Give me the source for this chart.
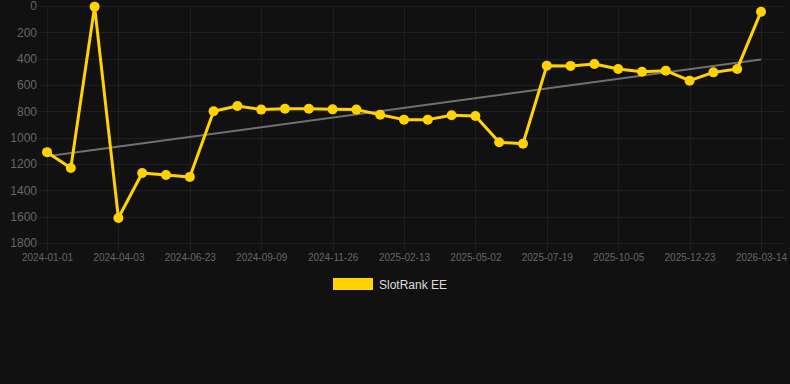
<!DOCTYPE html>
<html>
<head>
<meta charset="utf-8">
<script src="https://cdn.jsdelivr.net/npm/d3@7"></script>
<style>
  html, body { margin: 0; padding: 0; background: #111111; }
  svg { display: block; }
</style>
</head>
<body>
<script>
const width = 790,
  height = 384;

const margin = { top: 6, right: 29, bottom: 141, left: 47 };
const innerWidth = width - margin.left - margin.right;
const innerHeight = height - margin.top - margin.bottom;

// Category dates (every third one is labelled on the axis)
const dates = [
  "2024-01-01", "2024-02-01", "2024-03-03", "2024-04-03", "2024-04-30",
  "2024-05-27", "2024-06-23", "2024-07-19", "2024-08-14", "2024-09-09",
  "2024-10-05", "2024-10-31", "2024-11-26", "2024-12-22", "2025-01-18",
  "2025-02-13", "2025-03-11", "2025-04-06", "2025-05-02", "2025-05-28",
  "2025-06-23", "2025-07-19", "2025-08-14", "2025-09-09", "2025-10-05",
  "2025-10-31", "2025-11-27", "2025-12-23", "2026-01-19", "2026-02-16",
  "2026-03-14"
];

// Rank values
const ranks = [
  1110, 1230, 5, 1610, 1268, 1283, 1298, 800, 760, 787,
  780, 780, 785, 787, 826, 863, 863, 830, 835, 1035,
  1046, 453, 455, 440, 478, 499, 491, 567, 504, 478,
  43
];

const yTicks = [0, 200, 400, 600, 800, 1000, 1200, 1400, 1600, 1800];
const seriesName = "SlotRank EE";

const lineColor = "#ffd200";
const gridColor = "#1f1f1f";
const labelColor = "#666666";

const data = dates.map((d, i) => ({ date: d, rank: ranks[i], i: i }));

// scales
const xScale = d3
  .scalePoint()
  .domain(dates)
  .range([0, innerWidth]);

const yScale = d3
  .scaleLinear()
  .domain([0, 1800])
  .range([0, innerHeight]); // inverted: rank 0 at the top

const svg = d3
  .select("body")
  .append("svg")
  .attr("width", width)
  .attr("height", height)
  .style("background", "#111111");

const mainG = svg
  .append("g")
  .attr("transform", `translate(${margin.left}, ${margin.top})`);

// horizontal grid
mainG
  .append("g")
  .attr("class", "y-grid")
  .selectAll("line")
  .data(yTicks)
  .enter()
  .append("line")
  .attr("x1", -8)
  .attr("x2", innerWidth + 24)
  .attr("y1", d => Math.round(yScale(d)) + 0.5)
  .attr("y2", d => Math.round(yScale(d)) + 0.5)
  .attr("stroke", gridColor)
  .attr("stroke-width", 1);

// vertical grid on labelled categories
const labelled = dates.filter((d, i) => i % 3 === 0);

mainG
  .append("g")
  .attr("class", "x-grid")
  .selectAll("line")
  .data(labelled)
  .enter()
  .append("line")
  .attr("x1", d => Math.round(xScale(d)) + 0.5)
  .attr("x2", d => Math.round(xScale(d)) + 0.5)
  .attr("y1", 0)
  .attr("y2", innerHeight + 8)
  .attr("stroke", gridColor)
  .attr("stroke-width", 1);

// y labels
const yAxis = d3
  .axisLeft(yScale)
  .tickValues(yTicks)
  .tickFormat(d3.format("d"))
  .tickSize(0)
  .tickPadding(10);

mainG
  .append("g")
  .attr("id", "y-axis")
  .call(yAxis)
  .call(g => g.select(".domain").remove())
  .call(g =>
    g
      .selectAll("text")
      .attr("fill", labelColor)
      .attr("font-family", "Liberation Sans, Arial, sans-serif")
      .attr("font-size", 12)
  );

// x labels
const xAxis = d3
  .axisBottom(xScale)
  .tickValues(labelled)
  .tickSize(0)
  .tickPadding(11);

mainG
  .append("g")
  .attr("id", "x-axis")
  .attr("transform", `translate(0,${innerHeight})`)
  .call(xAxis)
  .call(g => g.select(".domain").remove())
  .call(g =>
    g
      .selectAll("text")
      .attr("fill", labelColor)
      .attr("font-family", "Liberation Sans, Arial, sans-serif")
      .attr("font-size", 10)
  );

// trend line (least squares over the series)
const meanX = d3.mean(data, d => d.i);
const meanY = d3.mean(data, d => d.rank);
const slope =
  d3.sum(data, d => (d.i - meanX) * (d.rank - meanY)) /
  d3.sum(data, d => (d.i - meanX) * (d.i - meanX));
const intercept = meanY - slope * meanX;
const last = data.length - 1;

mainG
  .append("line")
  .attr("class", "trend")
  .attr("x1", xScale(dates[0]))
  .attr("y1", yScale(intercept))
  .attr("x2", xScale(dates[last]))
  .attr("y2", yScale(intercept + slope * last))
  .attr("stroke", "#707070")
  .attr("stroke-width", 2);

// series line
const line = d3
  .line()
  .x(d => xScale(d.date))
  .y(d => yScale(d.rank));

mainG
  .append("path")
  .datum(data)
  .attr("fill", "none")
  .attr("stroke", lineColor)
  .attr("stroke-width", 3)
  .attr("stroke-linejoin", "round")
  .attr("d", line);

mainG
  .selectAll(".dot")
  .data(data)
  .enter()
  .append("circle")
  .attr("class", "dot")
  .attr("cx", d => xScale(d.date))
  .attr("cy", d => yScale(d.rank))
  .attr("r", 5)
  .attr("fill", lineColor);

// legend
const legend = svg
  .append("g")
  .attr("class", "legend")
  .attr("transform", "translate(333,278)");

legend
  .append("rect")
  .attr("width", 40)
  .attr("height", 12)
  .attr("fill", lineColor);

legend
  .append("text")
  .attr("x", 46)
  .attr("y", 10.5)
  .text(seriesName)
  .attr("fill", "#dddddd")
  .attr("font-family", "Liberation Sans, Arial, sans-serif")
  .attr("font-size", 12);
</script>
</body>
</html>
